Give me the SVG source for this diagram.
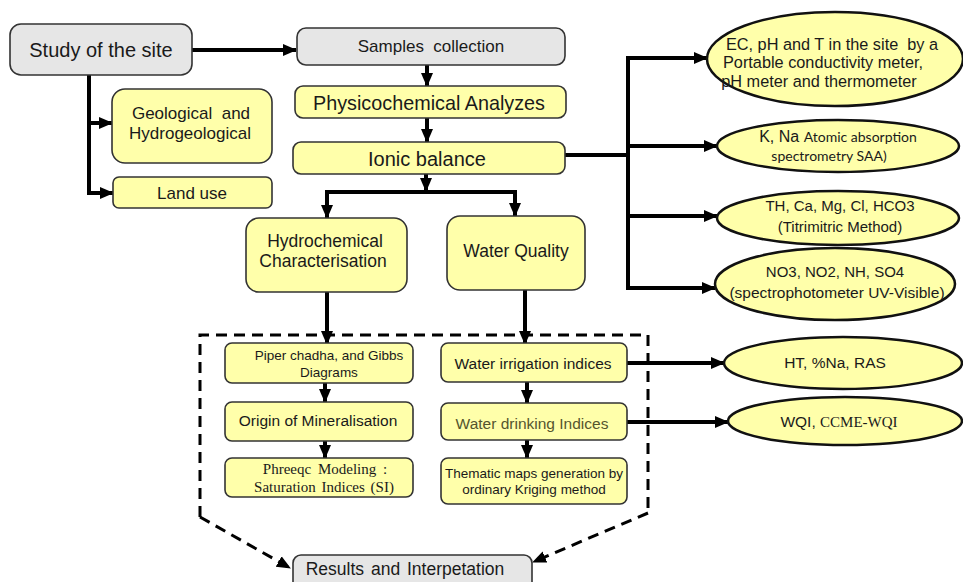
<svg xmlns="http://www.w3.org/2000/svg" width="963" height="582" viewBox="0 0 963 582">
<defs>
<marker id="ah" markerUnits="userSpaceOnUse" markerWidth="14" markerHeight="14" viewBox="0 0 14 14" refX="13" refY="7" orient="auto">
<path d="M0,1 L14,7 L0,13 Z" fill="#000"/>
</marker>
<style>
.y{fill:#ffffaa;stroke:#333;stroke-width:1.6}
.g{fill:#e6e6e6;stroke:#333;stroke-width:1.6}
.e{fill:#ffffaa;stroke:#111;stroke-width:2.5}
text{font-family:"Liberation Sans",Arial,sans-serif;fill:#1a1a1a;text-anchor:middle}
.c{stroke:#000;stroke-width:4;fill:none}
.a{stroke:#000;stroke-width:4;fill:none;marker-end:url(#ah)}
.d{stroke:#000;stroke-width:3;fill:none;stroke-dasharray:11 7}
.da{stroke:#000;stroke-width:3;fill:none;stroke-dasharray:11 7;marker-end:url(#ah)}
.s{font-family:"Liberation Serif","Times New Roman",serif}
.cal{font-family:Lato,"Open Sans",sans-serif}
</style>
</defs>
<rect width="963" height="582" fill="#fff"/>

<g id="connectors">
<path class="a" d="M192 50 H296"/>
<path class="c" d="M89 75 V193"/>
<path class="a" d="M89 123 H112"/>
<path class="a" d="M87 193 H113"/>
<path class="a" d="M427 65 V86"/>
<path class="a" d="M427 118 V142"/>
<path class="a" d="M426 174 V191"/>
<path class="a" d="M426 192 H327 V218"/>
<path class="a" d="M426 192 H515 V216"/>
<path class="c" d="M565 155 H628"/>
<path class="c" d="M628 56 V290"/>
<path class="a" d="M626 58 H707"/>
<path class="a" d="M628 146 H717"/>
<path class="a" d="M628 216 H717"/>
<path class="a" d="M626 288 H715"/>
<path class="a" d="M327 292 V344"/>
<path class="a" d="M525 290 V344"/>
<path class="a" d="M325 383 V402"/>
<path class="a" d="M325 441 V458"/>
<path class="a" d="M527 382 V403"/>
<path class="a" d="M527 440 V458"/>
<path class="a" d="M627 363 H724"/>
<path class="a" d="M627 422 H728"/>
<path class="d" d="M200 517 V335 H648 V513"/>
<path class="da" d="M200 517 L290 568"/>
<path class="da" d="M648 513 L533 562"/>
</g>

<g id="study"><rect class="g" x="10" y="24" width="182" height="51" rx="11"/><text x="101" y="57" font-size="20">Study of the site</text></g>
<g id="samples"><rect class="g" x="297" y="28" width="268" height="37" rx="9"/><text x="431" y="52" font-size="17">Samples&#160; collection</text></g>
<g id="physico"><rect class="y" x="295" y="86" width="271" height="32" rx="8"/><text x="429" y="110" font-size="19.8">Physicochemical Analyzes</text></g>
<g id="ionic"><rect class="y" x="293" y="142" width="272" height="32" rx="8"/><text x="427" y="166" font-size="20">Ionic balance</text></g>
<g id="geo"><rect class="y" x="112" y="89" width="160" height="74" rx="13"/><text x="191" y="119" font-size="17">Geological&#160; and</text><text x="190" y="139" font-size="17">Hydrogeological</text></g>
<g id="land"><rect class="y" x="113" y="177" width="159" height="31" rx="6"/><text x="192" y="199" font-size="17">Land use</text></g>
<g id="hydro"><rect class="y" x="246" y="218" width="161" height="74" rx="13"/><text x="325" y="247" font-size="17.5">Hydrochemical</text><text x="323" y="267" font-size="17.5">Characterisation</text></g>
<g id="wq"><rect class="y" x="447" y="216" width="138" height="74" rx="13"/><text x="516" y="257" font-size="17.5">Water Quality</text></g>

<g id="piper"><rect class="y" x="225" y="343" width="188" height="40" rx="7"/><text x="329" y="360" font-size="13.5">Piper chadha, and Gibbs</text><text x="329" y="377" font-size="13.5">Diagrams</text></g>
<g id="origin"><rect class="y" x="225" y="402" width="188" height="39" rx="7"/><text x="318" y="426" font-size="15.5">Origin of Mineralisation</text></g>
<g id="phreeqc"><rect class="y" x="225" y="458" width="188" height="39" rx="7"/><text class="s" x="325" y="474" font-size="15" word-spacing="3">Phreeqc Modeling :</text><text class="s" x="324" y="492" font-size="15" word-spacing="2">Saturation Indices (SI)</text></g>

<g id="irrig"><rect class="y" x="441" y="343" width="186" height="39" rx="7"/><text x="533" y="369" font-size="15.5">Water irrigation indices</text></g>
<g id="drink"><rect class="y" x="441" y="403" width="186" height="37" rx="7"/><text x="532" y="429" font-size="15.5" style="fill:#55552e">Water drinking Indices</text></g>
<g id="thematic"><rect class="y" x="441" y="458" width="186" height="46" rx="7"/><text x="534" y="478" font-size="13.5">Thematic maps generation by</text><text x="534" y="494" font-size="13.5">ordinary Kriging method</text></g>

<g id="results"><rect class="g" x="293" y="555" width="239" height="38" rx="8"/><text x="405" y="575" font-size="17.5" word-spacing="2">Results and Interpetation</text></g>

<g id="ec"><ellipse class="e" cx="835" cy="59" rx="128" ry="47"/><text x="832" y="50" font-size="16.3">EC, pH and T in the site&#160; by a</text><text x="823" y="68" font-size="16.3">Portable conductivity meter,</text><text x="819" y="87" font-size="16.3">pH meter and thermometer</text></g>
<g id="kna"><ellipse class="e" cx="838" cy="146" rx="121" ry="26"/><text x="838" y="142"><tspan font-size="16">K, Na </tspan><tspan class="cal" font-size="14">Atomic absorption</tspan></text><text class="cal" x="829" y="161" font-size="14">spectrometry SAA)</text></g>
<g id="th"><ellipse class="e" cx="838" cy="218" rx="121" ry="27"/><text x="840" y="211" font-size="15">TH, Ca, Mg, Cl, HCO3</text><text x="840" y="232" font-size="15">(Titrimitric Method)</text></g>
<g id="no3"><ellipse class="e" cx="835" cy="284" rx="120" ry="36"/><text x="835" y="277" font-size="15">NO3, NO2, NH, SO4</text><text x="837" y="298" font-size="15.5">(spectrophotometer UV-Visible)</text></g>
<g id="ht"><ellipse class="e" cx="843" cy="363" rx="119" ry="26"/><text x="835" y="368" font-size="15.5">HT, %Na, RAS</text></g>
<g id="wqi"><ellipse class="e" cx="845" cy="421" rx="117" ry="24"/><text x="839" y="427"><tspan font-size="15.5">WQI, </tspan><tspan class="s" font-size="15">CCME-WQI</tspan></text></g>
</svg>
